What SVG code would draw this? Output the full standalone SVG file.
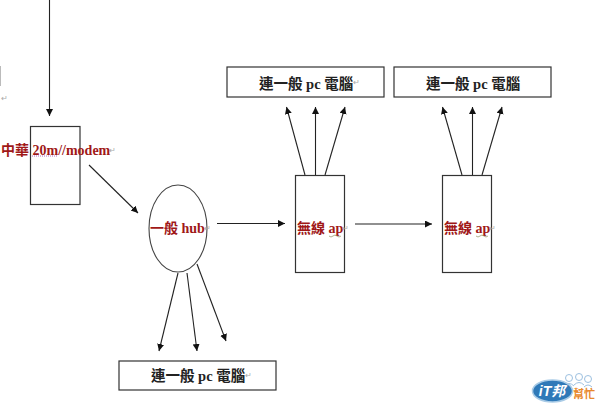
<svg xmlns="http://www.w3.org/2000/svg" width="600" height="410" viewBox="0 0 600 410">
<defs>
<marker id="a" markerUnits="userSpaceOnUse" markerWidth="8" markerHeight="8" refX="7" refY="3.500" orient="auto"><path d="M0 0L7 3.500L0 7Z" fill="#111"/></marker>
</defs>
<style>
.b{fill:#fff;stroke:#333;stroke-width:1.2}
.c{fill:none;stroke:#222;stroke-width:1.1;marker-end:url(#a)}
.r{font-family:"Liberation Serif","Noto Sans CJK TC",serif;font-size:14px;font-weight:700;fill:#a01818}
.k{font-family:"Liberation Serif","Noto Sans CJK TC",serif;font-size:14.500px;font-weight:700;fill:#222}
.m{font-family:"Liberation Sans",sans-serif;font-size:8px;fill:#aaa}
.w{fill:none;stroke:#9a9a70;stroke-width:.8}
</style>
<rect width="600" height="410" fill="#fff"/>
<g id="modem"><rect class="b" x="30.500" y="126.500" width="49.500" height="78"/><text class="r" x="1" y="155">中華 20m//modem</text><text class="m" x="109" y="153">↵</text><path d="M32 156H58" stroke="#b070c0" stroke-width="1" stroke-dasharray="1 1" fill="none"/></g>
<g id="hub"><ellipse cx="178" cy="228.500" rx="29" ry="43.500" fill="#fff" stroke="#444" stroke-width="1.100"/><text class="r" x="150" y="233">一般 hub</text><text class="m" x="204" y="231">↵</text></g>
<g id="ap1"><rect class="b" x="295.500" y="175.500" width="49" height="97"/><text class="r" x="297" y="233">無線 ap</text><text class="m" x="342" y="231">↵</text><path class="w" d="M329 236q2 2 4 0t4 0t4 0"/></g>
<g id="ap2"><rect class="b" x="442.500" y="175.500" width="49" height="97"/><text class="r" x="444" y="233">無線 ap</text><text class="m" x="489" y="231">↵</text><path class="w" d="M476 236q2 2 4 0t4 0t4 0"/></g>
<g id="pc1"><rect class="b" x="227" y="67" width="157" height="30"/><text class="k" x="259" y="89">連一般 pc 電腦</text><text class="m" x="353" y="85">↵</text></g>
<g id="pc2"><rect class="b" x="394" y="67" width="157" height="30"/><text class="k" x="426" y="89">連一般 pc 電腦</text></g>
<g id="pc3"><rect class="b" x="119" y="361" width="157" height="29"/><text class="k" x="151" y="381">連一般 pc 電腦</text><text class="m" x="245" y="378">↵</text></g>
<g id="connectors">
<path class="c" d="M49.500 0V116"/>
<path class="c" d="M89 165L138 213"/>
<path class="c" d="M217 223.500H285"/>
<path class="c" d="M355 224H432"/>
<path class="c" d="M305 175L286.500 107"/>
<path class="c" d="M315.500 175V107"/>
<path class="c" d="M325 175L345 107"/>
<path class="c" d="M462 175L442.500 107"/>
<path class="c" d="M472.500 175V107"/>
<path class="c" d="M482 175L502 107"/>
<path class="c" d="M178 273L159 351"/>
<path class="c" d="M187 273L197 351"/>
<path class="c" d="M197 264L226 341"/>
</g>
<g id="margin"><path d="M0.500 66V86" stroke="#bbb" fill="none"/><text class="m" x="1" y="101">↵</text></g>
<g id="logo">
<circle cx="569" cy="378" r="3.500" fill="#fff" stroke="#9cc0e0"/><circle cx="579" cy="377" r="3.500" fill="#fff" stroke="#9cc0e0"/><circle cx="588" cy="379" r="3.500" fill="#fff" stroke="#9cc0e0"/>
<path d="M564 386q5-5 10 0M574 385q5-5 10 0M584 387q4-4 8 0" fill="none" stroke="#9cc0e0"/>
<ellipse cx="552.500" cy="391" rx="20" ry="11" fill="#2f79b8" stroke="#a9cbe6" stroke-width="1.500"/>
<text x="552" y="396" text-anchor="middle" font-family="Liberation Sans,Noto Sans CJK TC,sans-serif" font-size="14" font-weight="700" font-style="italic" fill="#fff">iT邦</text>
<text x="573" y="398" font-family="Noto Sans CJK TC,sans-serif" font-size="11" font-weight="700" fill="#e8892b">幫忙</text>
</g>
</svg>
